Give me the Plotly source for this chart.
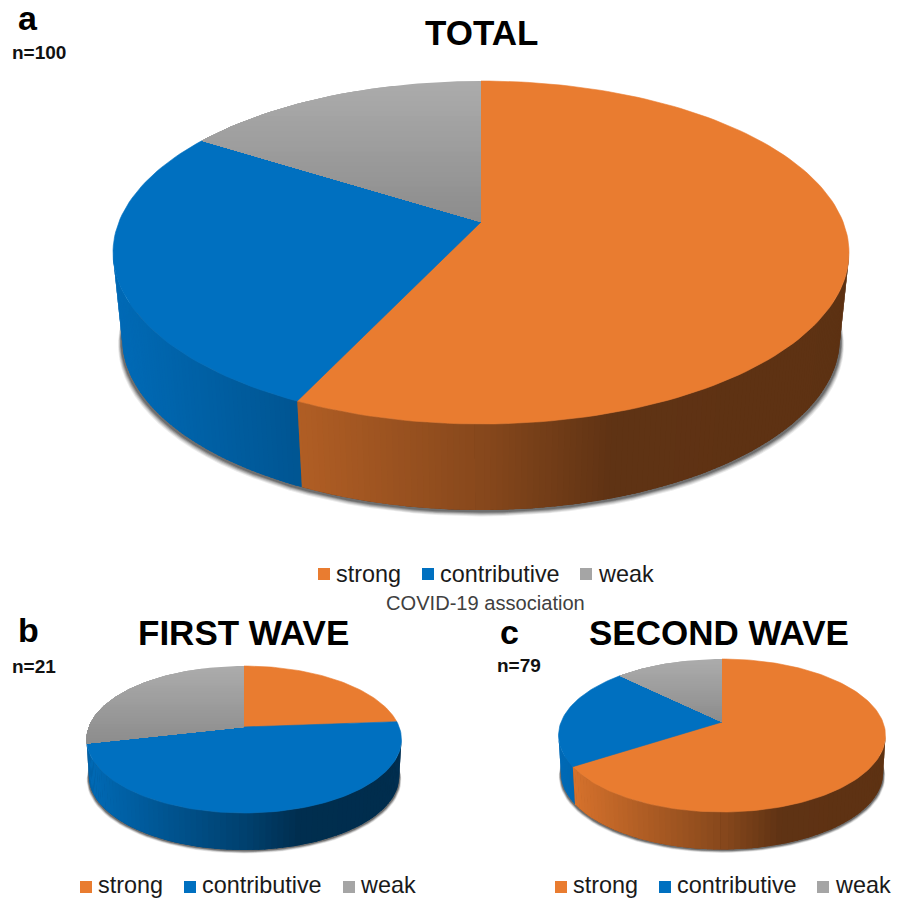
import math
import plotly.graph_objects as go

# Case counts per COVID-19 association class
categories = ["strong", "contributive", "weak"]
total_values = [57, 27, 16]
first_wave_values = [5, 10, 6]
second_wave_values = [52, 17, 10]

panel_letters = ["a", "b", "c"]
panel_titles = ["TOTAL", "FIRST WAVE", "SECOND WAVE"]
panel_counts = ["n=100", "n=21", "n=79"]
axis_caption = "COVID-19 association"

ORANGE = (233, 124, 48)
BLUE = (0, 112, 192)
GREY_TOP = (172, 172, 172)
GREY_APEX = (140, 140, 140)
SLICE_COLOURS = [ORANGE, BLUE, (165, 165, 165)]

W, H = 901, 898


def rgb(c, f=1.0):
    return "rgb(%d,%d,%d)" % tuple(round(v * f) for v in c)


class Disc:
    """Perspective view of a tilted disc, with angles clockwise from 12 o'clock."""

    def __init__(self, apex_x, apex_y, top, bottom, left, right, depth, taper, blur):
        self.cx = (left + right) / 2
        self.apex_x, self.apex_y = apex_x, apex_y
        self.depth, self.taper, self.blur = depth, taper, blur
        up, down = apex_y - top, bottom - apex_y
        self.k = (down - up) / (down + up)
        self.a = up * (1 + self.k)
        self.half_width = (right - left) / 2
        self.r = self.half_width * math.sqrt(1 - self.k ** 2)
        # Rim angle where the side silhouette begins; the wall behind it is hidden
        self.tangent = math.degrees(math.acos(-self.k))

    def rim(self, deg):
        t = math.radians(deg)
        w = 1 + self.k * math.cos(t)
        return self.apex_x + self.r * math.sin(t) / w, self.apex_y - self.a * math.cos(t) / w

    def floor(self, deg, grow=0.0, drop=0.0):
        x, y = self.rim(deg)
        s = self.taper + grow / self.half_width
        return self.cx + (x - self.cx) * s, y + self.depth + drop


def wall_shade(u):
    # Side lighting falls off from the left edge toward the right of the disc
    stops = [(-1.0, 0.95), (-0.5, 0.76), (0.0, 0.58), (0.35, 0.41), (1.0, 0.40)]
    for (u0, f0), (u1, f1) in zip(stops, stops[1:]):
        if u <= u1:
            return f0 + (f1 - f0) * (max(u, u0) - u0) / (u1 - u0)
    return stops[-1][1]


def polygon(points, colour, edge=0.0):
    closed = list(points) + [points[0]]
    return go.Scatter(
        x=[p[0] for p in closed], y=[p[1] for p in closed], mode="lines",
        fill="toself", fillcolor=colour,
        line=dict(color=colour, width=edge), hoverinfo="skip", showlegend=False,
    )


def clip_band(points, y0):
    out = []
    for i, p in enumerate(points):
        q = points[(i + 1) % len(points)]
        if p[1] >= y0:
            out.append(p)
        if (p[1] >= y0) != (q[1] >= y0):
            t = (y0 - p[1]) / (q[1] - p[1])
            out.append((p[0] + (q[0] - p[0]) * t, y0))
    return out


def draw_pie(fig, disc, values):
    total = sum(values)
    bounds = [0.0]
    for v in values:
        bounds.append(bounds[-1] + 360.0 * v / total)
    wall_from, wall_to = disc.tangent, 360.0 - disc.tangent
    step = 300.0 / disc.half_width

    # Soft contact shadow round the base
    for g, alpha in zip((1.0, 0.85, 0.7, 0.55, 0.4), (0.10, 0.15, 0.20, 0.30, 0.40)):
        ring = [disc.floor(d, g * disc.blur * 0.55, g * disc.blur * 0.85) for d in range(0, 360, 3)]
        fig.add_trace(polygon(ring, "rgba(60,60,60,%.2f)" % alpha))

    # Side wall: narrow quads painted back to front so the shading can vary along it
    quads = []
    for i, colour in enumerate(SLICE_COLOURS):
        start, end = max(bounds[i], wall_from), min(bounds[i + 1], wall_to)
        if end <= start:
            continue
        n = max(1, math.ceil((end - start) / step))
        angles = [start + (end - start) * j / n for j in range(n + 1)]
        under = [disc.rim(a) for a in angles] + [disc.floor(a) for a in reversed(angles)]
        fig.add_trace(polygon(under, rgb(colour, wall_shade((under[n // 2][0] - disc.cx) / disc.half_width))))
        for j in range(n):
            a0, a1 = angles[j], angles[j + 1]
            # Each quad laps slightly over its rear neighbour inside the slice
            if a0 > 180:
                a1 = min(a1 + 0.4, end)
            else:
                a0 = max(a0 - 0.4, start)
            p0, p1 = disc.rim(a0), disc.rim(a1)
            q0, q1 = disc.floor(a0), disc.floor(a1)
            u = ((p0[0] + p1[0]) / 2 - disc.cx) / disc.half_width
            quads.append(((p0[1] + p1[1]) / 2, [p0, p1, q1, q0], rgb(colour, wall_shade(u))))
    for _, pts, colour in sorted(quads, key=lambda item: item[0]):
        fig.add_trace(polygon(pts, colour))

    # Top face
    for i, colour in enumerate(SLICE_COLOURS):
        n = max(2, math.ceil((bounds[i + 1] - bounds[i]) / 1.5))
        arc = [disc.rim(bounds[i] + (bounds[i + 1] - bounds[i]) * j / n) for j in range(n + 1)]
        pts = [(disc.apex_x, disc.apex_y)] + arc
        if i < 2:
            fig.add_trace(polygon(pts, rgb(colour), edge=0.6))
        else:
            # The grey slice darkens from the outer rim down to the centre
            y_min, y_max = min(p[1] for p in pts), max(p[1] for p in pts)
            bands = 28
            for b in range(bands):
                piece = clip_band(pts, y_min + (y_max - y_min) * b / bands)
                if len(piece) < 3:
                    continue
                mix = (b + 0.5) / bands
                shade = tuple(GREY_TOP[c] + (GREY_APEX[c] - GREY_TOP[c]) * mix for c in range(3))
                fig.add_trace(polygon(piece, rgb(shade)))


def label(fig, x, y, text, size, bold=False, colour="#000000", anchor="center"):
    fig.add_annotation(
        x=x, y=y, xref="x", yref="y", text="<b>%s</b>" % text if bold else text, showarrow=False,
        xanchor=anchor, yanchor="middle",
        font=dict(family="Liberation Sans", size=size, color=colour),
    )


def draw_legend(fig, swatch_x, text_x, swatch_y, text_y):
    fig.add_trace(go.Scatter(
        x=swatch_x, y=[swatch_y] * 3, mode="markers",
        marker=dict(symbol="square", size=12, color=[rgb(c) for c in SLICE_COLOURS], line=dict(width=0)),
        hoverinfo="skip", showlegend=False,
    ))
    for name, x in zip(categories, text_x):
        label(fig, x, text_y, name, 23.4, colour="#1a1a1a", anchor="left")


fig = go.Figure()

discs = [
    Disc(481, 222, 81, 424, 113, 849, 86, 0.975, 7.5),
    Disc(244, 727, 666, 813, 86, 401, 37, 0.985, 4.0),
    Disc(722, 722, 659, 812, 559, 886, 37.5, 0.985, 4.0),
]
for disc, values in zip(discs, [total_values, first_wave_values, second_wave_values]):
    draw_pie(fig, disc, values)

title_pos = [(481, 32), (243, 632), (718.5, 632)]
letter_pos = [(28, 18), (28, 630), (509, 632)]
count_pos = [(10, 52), (10, 666), (495, 665)]
for i in range(3):
    label(fig, title_pos[i][0], title_pos[i][1], panel_titles[i], 35, bold=True)
    label(fig, letter_pos[i][0], letter_pos[i][1], panel_letters[i], 34, bold=True)
    label(fig, count_pos[i][0], count_pos[i][1], panel_counts[i], 19, bold=True, colour="#111111", anchor="left")

draw_legend(fig, [324, 428, 586], [334, 438, 596], 574, 574)
draw_legend(fig, [86, 190, 349], [96, 200, 358], 887, 885)
draw_legend(fig, [561, 665, 823], [571, 675, 833], 887, 885)
label(fig, 485, 603, axis_caption, 20.1, colour="#404040")

fig.update_layout(
    width=W, height=H, margin=dict(l=0, r=0, t=0, b=0),
    paper_bgcolor="white", plot_bgcolor="white",
    xaxis=dict(range=[0, W], visible=False, fixedrange=True),
    yaxis=dict(range=[H, 0], visible=False, fixedrange=True),
    showlegend=False,
)
fig.write_html("out.html", config=dict(displayModeBar=False))
